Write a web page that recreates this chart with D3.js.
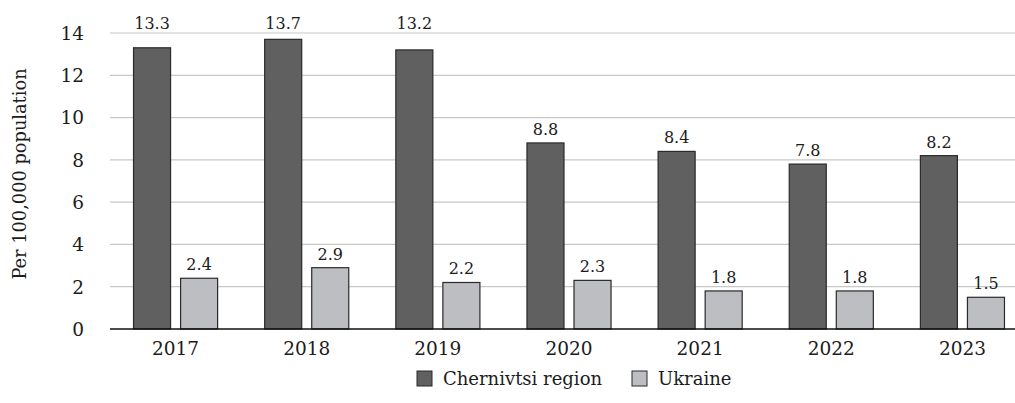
<!DOCTYPE html>
<html>
<head>
<meta charset="utf-8">
<script src="https://cdn.jsdelivr.net/npm/d3@7"></script>
<style>
  body { margin: 0; background: #fff; }
  svg { display: block; }
  svg text { font-family: "DejaVu Serif", serif; }
</style>
</head>
<body>
<div id="chart"></div>
<script>
// data
const years = ["2017", "2018", "2019", "2020", "2021", "2022", "2023"];
const series = ["Chernivtsi region", "Ukraine"];
const chernivtsi = [13.3, 13.7, 13.2, 8.8, 8.4, 7.8, 8.2];
const ukraine = [2.4, 2.9, 2.2, 2.3, 1.8, 1.8, 1.5];
const yTicks = [0, 2, 4, 6, 8, 10, 12, 14];
const colors = ["#606060", "#bdbec1"];

const width = 1015, height = 403;
const margin = {top: 33, left: 110, bottom: 74};
const plotRight = 1028;

let svg = d3.select("#chart").append("svg")
    .attr("width", width)
    .attr("height", height);

let x0 = d3.scaleBand()
    .domain(years)
    .range([margin.left, plotRight])
    .padding(0);

let x1 = d3.scaleBand()
    .domain(series)
    .range([0, x0.bandwidth()])
    .paddingInner(0.213)
    .paddingOuter(0.5);

let y = d3.scaleLinear()
    .domain([0, 14])
    .range([height - margin.bottom, margin.top]);

// gridlines
svg.append("g")
    .selectAll("line")
    .data(yTicks.filter(d => d > 0))
    .join("line")
    .attr("x1", margin.left)
    .attr("x2", width)
    .attr("y1", d => y(d))
    .attr("y2", d => y(d))
    .attr("stroke", "#c8c8c8")
    .attr("stroke-width", 1.2);

// y tick labels
svg.append("g")
    .selectAll("text")
    .data(yTicks)
    .join("text")
    .attr("x", 84)
    .attr("y", d => y(d))
    .attr("dy", "0.37em")
    .attr("text-anchor", "end")
    .attr("font-size", 18.5)
    .attr("fill", "#1c1c1c")
    .text(d => d);

// y title
svg.append("text")
    .attr("transform", "translate(26," + 174 + ") rotate(-90)")
    .attr("text-anchor", "middle")
    .attr("font-size", 17.8)
    .attr("fill", "#1c1c1c")
    .text("Per 100,000 population");

// bars
let rows = years.map((yr, i) => ({year: yr, vals: [chernivtsi[i], ukraine[i]]}));

let groups = svg.append("g")
    .selectAll("g")
    .data(rows)
    .join("g")
    .attr("transform", d => "translate(" + x0(d.year) + ",0)");

groups.selectAll("rect")
    .data(d => d.vals.map((v, j) => ({key: series[j], v: v, j: j})))
    .join("rect")
    .attr("x", d => x1(d.key))
    .attr("y", d => y(d.v))
    .attr("width", x1.bandwidth())
    .attr("height", d => y(0) - y(d.v))
    .attr("fill", d => colors[d.j])
    .attr("stroke", "#2a2a2a")
    .attr("stroke-width", 1.2);

// value labels, the tallest ones sit at the top edge
groups.selectAll("text.val")
    .data(d => d.vals.map((v, j) => ({key: series[j], v: v, j: j})))
    .join("text")
    .attr("class", "val")
    .attr("x", d => x1(d.key) + x1.bandwidth() / 2)
    .attr("y", d => {
        let ly = y(d.v) - 8;
        return ly < 45 ? 29 : ly;
    })
    .attr("text-anchor", "middle")
    .attr("font-size", 16)
    .attr("fill", "#1c1c1c")
    .text(d => d.v.toFixed(1));

// x axis line
svg.append("line")
    .attr("x1", margin.left)
    .attr("x2", width)
    .attr("y1", y(0))
    .attr("y2", y(0))
    .attr("stroke", "#111")
    .attr("stroke-width", 1.5);

// x tick labels
svg.append("g")
    .selectAll("text")
    .data(years)
    .join("text")
    .attr("x", d => x0(d) + x0.bandwidth() / 2)
    .attr("y", 355)
    .attr("text-anchor", "middle")
    .attr("font-size", 18.5)
    .attr("fill", "#1c1c1c")
    .text(d => d);

// legend
let legendX = [417, 632];
let legend = svg.append("g")
    .selectAll("g")
    .data(series)
    .join("g")
    .attr("transform", (d, i) => "translate(" + legendX[i] + ",371)");

legend.append("rect")
    .attr("width", 15)
    .attr("height", 15)
    .attr("fill", (d, i) => colors[i])
    .attr("stroke", "#2a2a2a")
    .attr("stroke-width", 1);

legend.append("text")
    .attr("x", 26)
    .attr("y", 14)
    .attr("font-size", 18)
    .attr("fill", "#1c1c1c")
    .text(d => d);
</script>
</body>
</html>
